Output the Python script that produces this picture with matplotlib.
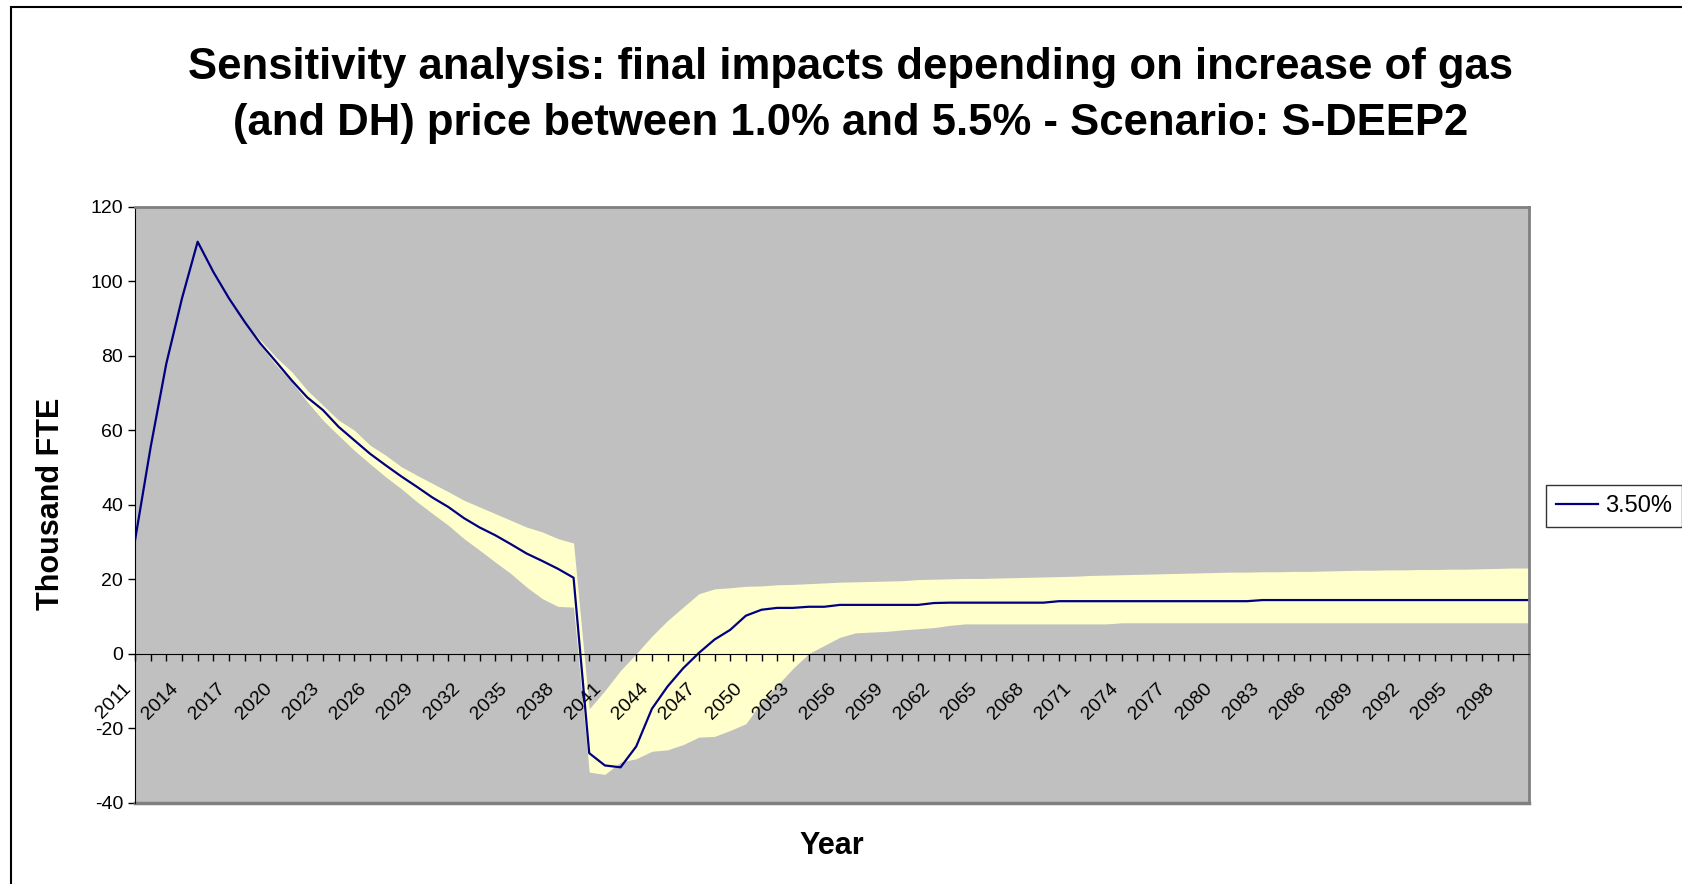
import numpy as np
import matplotlib
matplotlib.use("Agg")
import matplotlib.pyplot as plt
from matplotlib.patches import Rectangle

plt.rcParams['font.family'] = ['Liberation Sans', 'DejaVu Sans']
plt.rcParams['axes.unicode_minus'] = False

years = list(range(2011, 2101))

# central case (3.50%)
central = [30.4, 55.5, 77.9, 95.4, 110.6, 102.5, 95.4, 89.1, 83.3, 78.4,
           73.4, 68.8, 65.4, 60.9, 57.3, 53.7, 50.6, 47.6, 44.8, 41.9,
           39.4, 36.4, 33.9, 31.8, 29.4, 26.9, 24.9, 22.8, 20.4, -26.7,
           -30.0, -30.5, -24.9, -14.8, -8.8, -3.9, 0.2, 3.8, 6.4, 10.2,
           11.8, 12.3, 12.3, 12.6, 12.6, 13.1, 13.1, 13.1, 13.1, 13.1,
           13.1, 13.6, 13.7, 13.7, 13.7, 13.7, 13.7, 13.7, 13.7, 14.1,
           14.1, 14.1, 14.1, 14.1, 14.1, 14.1, 14.1, 14.1, 14.1, 14.1,
           14.1, 14.1, 14.4, 14.4, 14.4, 14.4, 14.4, 14.4, 14.4, 14.4,
           14.4, 14.4, 14.4, 14.4, 14.4, 14.4, 14.4, 14.4, 14.4, 14.4]

# envelope of the 1.0% .. 5.5% runs
band_high = [30.4, 55.5, 77.9, 95.4, 110.6, 102.5, 95.4, 89.1, 84.2, 79.6,
             75.7, 70.7, 66.7, 62.7, 60.0, 56.0, 53.3, 50.2, 47.9, 45.7,
             43.5, 41.2, 39.4, 37.6, 35.8, 34.0, 32.7, 30.9, 29.7, -14.8,
             -9.9, -4.5, 0.0, 4.7, 8.9, 12.5, 16.1, 17.4, 17.7, 18.1,
             18.2, 18.5, 18.6, 18.8, 19.0, 19.2, 19.3, 19.4, 19.5, 19.6,
             19.9, 20.0, 20.1, 20.2, 20.2, 20.3, 20.4, 20.5, 20.6, 20.7,
             20.8, 21.0, 21.1, 21.2, 21.3, 21.4, 21.5, 21.6, 21.7, 21.8,
             21.9, 21.9, 22.0, 22.0, 22.1, 22.1, 22.2, 22.3, 22.4, 22.4,
             22.5, 22.5, 22.6, 22.6, 22.7, 22.7, 22.8, 22.9, 23.0, 23.0]

band_low = [30.4, 55.5, 77.9, 95.4, 110.6, 102.5, 95.4, 89.1, 82.8, 77.5,
            73.0, 67.6, 62.7, 58.6, 54.6, 51.0, 47.5, 44.3, 40.8, 37.6,
            34.5, 30.9, 27.8, 24.6, 21.5, 17.9, 14.8, 12.7, 12.5, -31.8,
            -32.4, -29.1, -28.2, -26.2, -25.8, -24.4, -22.4, -22.2, -20.6, -18.8,
            -13.0, -8.5, -4.0, 0.0, 2.2, 4.4, 5.6, 5.8, 6.0, 6.4,
            6.7, 7.0, 7.6, 8.0, 8.0, 8.0, 8.0, 8.0, 8.0, 8.0,
            8.0, 8.0, 8.0, 8.3, 8.3, 8.3, 8.3, 8.3, 8.3, 8.3,
            8.3, 8.3, 8.3, 8.3, 8.3, 8.3, 8.3, 8.3, 8.3, 8.3,
            8.3, 8.3, 8.3, 8.3, 8.3, 8.3, 8.3, 8.3, 8.3, 8.3]

y_ticks = [-40, -20, 0, 20, 40, 60, 80, 100, 120]
x_labels = [str(y) if (y - 2011) % 3 == 0 else '' for y in years]

W, H = 1682, 884
fig = plt.figure(figsize=(W / 100, H / 100), dpi=100)

# chart border (runs off the right and bottom of the image)
fig.patches.append(Rectangle((11 / W, -0.1), 1.2, 1 - 7 / H + 0.1,
                             transform=fig.transFigure, fill=False,
                             edgecolor='black', lw=1.5))

left, right, top, bottom = 135, 1529, 206.7, 802.7
ax = fig.add_axes([left / W, 1 - bottom / H, (right - left) / W, (bottom - top) / H])
ax.set_facecolor('#C0C0C0')

# category axis crosses at zero (set before tick styling, it resets ticks)
ax.spines['bottom'].set_position(('data', 0))
ax.spines['bottom'].set_color('black')
ax.spines['left'].set_color('black')
for s in ['top', 'right']:
    ax.spines[s].set_color('#808080')
    ax.spines[s].set_linewidth(2)

ax.fill_between(years, band_low, band_high, color='#FFFFCC', lw=0)
ax.plot(years, central, color='#000080', lw=1.6, label='3.50%')
ax.plot([0, 1], [0, 0], transform=ax.transAxes, color='#808080', lw=2.5, clip_on=False)

ax.set_xlim(2011, 2100)
ax.set_ylim(-40, 120)
ax.set_yticks(y_ticks)
ax.set_xticks(years)
ax.set_xticklabels(x_labels, rotation=45, ha='right', va='top', fontsize=14)
ax.tick_params(axis='x', direction='out', length=5, width=1, pad=14)
ax.tick_params(axis='y', direction='out', length=5, width=1, labelsize=14)

fig.text(851 / W, 1 - 68 / H, 'Sensitivity analysis: final impacts depending on increase of gas',
         ha='center', va='center', fontsize=31.4, fontweight='bold')
fig.text(851 / W, 1 - 124 / H, '(and DH) price between 1.0% and 5.5% - Scenario: S-DEEP2',
         ha='center', va='center', fontsize=31.4, fontweight='bold')
fig.text(51 / W, 1 - 504 / H, 'Thousand FTE', rotation=90, ha='center', va='center',
         fontsize=22, fontweight='bold')
fig.text(832 / W, 1 - 846 / H, 'Year', ha='center', va='center', fontsize=22, fontweight='bold')

leg = fig.legend(loc='upper left', bbox_to_anchor=(1546 / W, 1 - 485 / H), fontsize=17,
                 frameon=True, fancybox=False, borderaxespad=0, handlelength=1.8,
                 handletextpad=0.3, borderpad=0.42)
leg.get_frame().set_edgecolor('black')
leg.get_frame().set_linewidth(1)

fig.savefig('out.png', dpi=100)
